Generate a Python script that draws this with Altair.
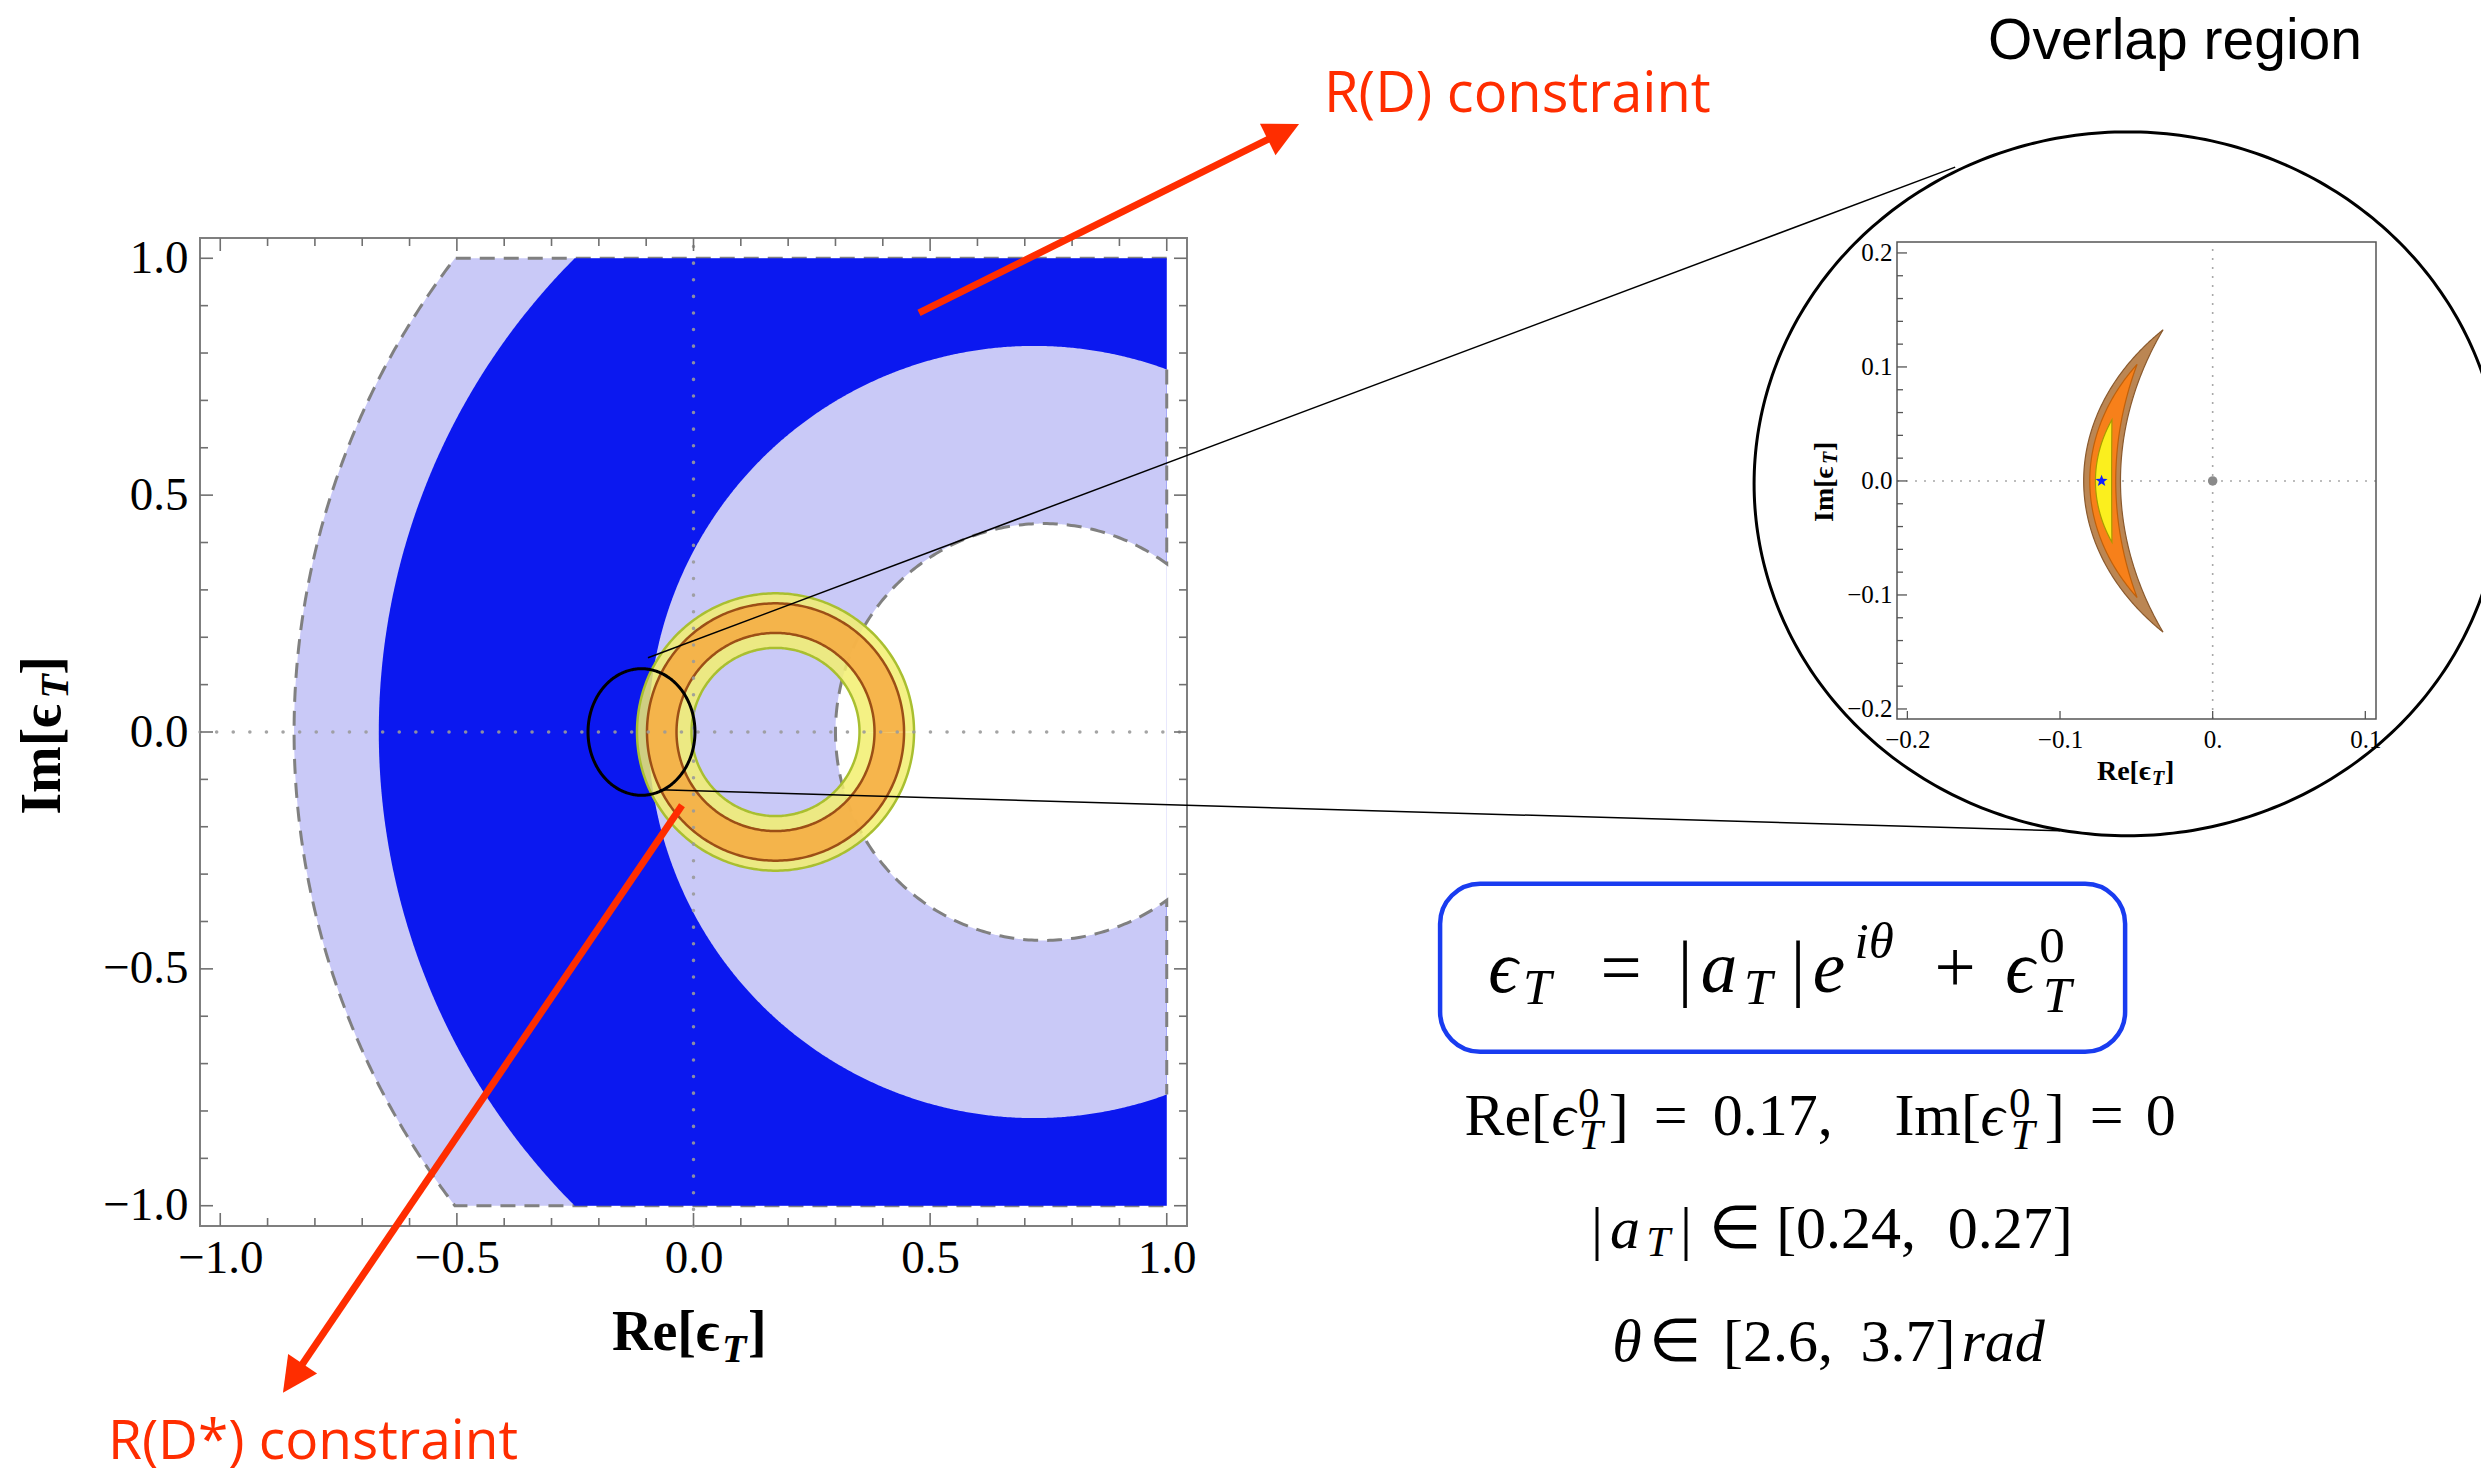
import math
import numpy as np
import pandas as pd
import altair as alt

# ===================== values =====================
# Main panel: each band edge is a circle centred on the real axis (centre, radius)
edge_names = ["R(D*) outer", "R(D*) inner", "R(D) outer", "R(D) inner"]
edge_centers = [0.797, 0.740, 0.750, 0.720]
edge_radii = [1.641, 0.440, 1.415, 0.815]
scan_box = [-1.0, 1.0]

# overlap rings  eps_T = |a_T| e^{i theta} + eps_T^0
ring_center = 0.1733
ring_names = ["2 sigma", "1 sigma"]
ring_inner = [0.1775, 0.2092]
ring_outer = [0.2927, 0.2716]

main_ticks = [-1.0, -0.9, -0.8, -0.7, -0.6, -0.5, -0.4, -0.3, -0.2, -0.1, 0.0,
              0.1, 0.2, 0.3, 0.4, 0.5, 0.6, 0.7, 0.8, 0.9, 1.0]
main_labels = [-1.0, -0.5, 0.0, 0.5, 1.0]

# Inset: zoom on the overlap region (three nested crescents)
crescent_names = ["outer", "middle", "inner"]
crescent_left = [-0.0845, -0.0805, -0.0768]
crescent_right = [-0.0604, -0.0635, -0.0662]
crescent_tip_x = [-0.0325, -0.0495, -0.0660]
crescent_tip_y = [0.1326, 0.1023, 0.0537]
best_fit_point = [-0.0728, 0.0]
sm_point = [0.0, 0.0]
inset_x_labels = [-0.2, -0.1, 0.0, 0.1]
inset_y_ticks = [-0.2, -0.18, -0.16, -0.14, -0.12, -0.1, -0.08, -0.06, -0.04, -0.02, 0.0,
                 0.02, 0.04, 0.06, 0.08, 0.1, 0.12, 0.14, 0.16, 0.18, 0.2]
inset_y_labels = [-0.2, -0.1, 0.0, 0.1, 0.2]

# annotation geometry, in main-panel data units
zoom_marker_center = [-0.1099, 0.0]
zoom_marker_radii = [0.113, 0.1336]
magnifier_center = [3.0304, 0.5239]
magnifier_radii = [0.7893, 0.7429]
zoom_line_start = [[-0.0962, 0.1566], [-0.0708, -0.1220]]
zoom_line_end = [[2.666, 1.1925], [2.8878, -0.2085]]
arrow_tail = [[0.4765, 0.8848], [-0.0243, -0.1545]]
arrow_tip = [[1.2796, 1.2837], [-0.8675, -1.3947]]

# ===================== styling / layout =====================
SERIF = "Liberation Serif"
SANS = "Liberation Sans"
HUMAN = "Open Sans"
RED = "#ff2d00"
LIGHT = "#c9c9f7"
DARK = "#0b18f0"
YELLOW, YELLOW_EDGE = "#f2ef6e", "#a9bf30"
ORANGE, ORANGE_EDGE = "#f6aa42", "#9c4f16"

W, H = 987, 988
PAD = {"left": 200, "top": 238, "right": 2481 - 200 - W, "bottom": 1476 - 238 - H}
XDOM = [-1.0428, 1.0428]
YDOM = [-1.0428, 1.0428]
PPU_X = W / (XDOM[1] - XDOM[0])
PPU_Y = H / (YDOM[1] - YDOM[0])

IX_DOM = [-0.2068, 0.107]
IY_DOM = [-0.2088, 0.2096]
IX_RANGE = [1697, 2176]
IY_RANGE = [481, 4]
IPPU_X = (IX_RANGE[1] - IX_RANGE[0]) / (IX_DOM[1] - IX_DOM[0])
IPPU_Y = (IY_RANGE[0] - IY_RANGE[1]) / (IY_DOM[1] - IY_DOM[0])

mx_scale = alt.Scale(domain=XDOM, nice=False, zero=False)
my_scale = alt.Scale(domain=YDOM, nice=False, zero=False)
mx_axis = alt.Axis(values=main_labels, format=".1f", labelFont=SERIF, labelFontSize=47,
                   labelColor="black", labelPadding=9, labelFlush=False, ticks=False,
                   domain=False, grid=False)
my_axis = alt.Axis(values=main_labels, format=".1f", labelFont=SERIF, labelFontSize=47,
                   labelColor="black", labelPadding=12, labelFlush=False, ticks=False,
                   domain=False, grid=False)

ix_scale = alt.Scale(domain=IX_DOM, range=IX_RANGE, nice=False, zero=False)
iy_scale = alt.Scale(domain=IY_DOM, range=IY_RANGE, nice=False, zero=False)
ix_axis = alt.Axis(orient="bottom", offset=IY_RANGE[0] - H, values=inset_x_labels,
                   labelExpr="datum.value == 0 ? '0.' : format(datum.value, '.1f')",
                   labelFont=SERIF, labelFontSize=25, labelColor="black", labelPadding=8,
                   labelFlush=False, ticks=False, domain=False, grid=False)
iy_axis = alt.Axis(orient="left", offset=-IX_RANGE[0], values=inset_y_labels, format=".1f",
                   labelFont=SERIF, labelFontSize=25, labelColor="black", labelPadding=5,
                   labelFlush=False, ticks=False, domain=False, grid=False)


def MX(f):
    return alt.X(f, type="quantitative", scale=mx_scale, axis=mx_axis, title=None)


def MY(f):
    return alt.Y(f, type="quantitative", scale=my_scale, axis=my_axis, title=None)


def IX(f):
    return alt.X(f, type="quantitative", scale=ix_scale, axis=ix_axis, title=None)


def IY(f):
    return alt.Y(f, type="quantitative", scale=iy_scale, axis=iy_axis, title=None)


# ===================== geometry tables =====================
def left_arc(c, r, y):
    return c - np.sqrt(np.maximum(r * r - y * y, 0.0))


def half_disk(c, r, n=721):
    t = np.linspace(-np.pi / 2, np.pi / 2, n)
    return r * np.sin(t), c - r * np.cos(t), c + r * np.cos(t)


lo, hi = scan_box
ys = np.linspace(lo, hi, 401)

light_df = pd.DataFrame({"y": ys, "x": left_arc(edge_centers[0], edge_radii[0], ys), "x2": hi})
dark_df = pd.DataFrame({"y": ys, "x": left_arc(edge_centers[2], edge_radii[2], ys), "x2": hi})
yy, l_, r_ = half_disk(edge_centers[3], edge_radii[3])
disk_df = pd.DataFrame({"y": yy, "x": l_, "x2": np.minimum(r_, hi)})
yy, l_, r_ = half_disk(edge_centers[1], edge_radii[1])
hole_df = pd.DataFrame({"y": yy, "x": l_, "x2": np.minimum(r_, hi)})

arc_y = np.linspace(hi, lo, 301)
ox = np.concatenate([[hi], left_arc(edge_centers[0], edge_radii[0], arc_y), [hi]])
oy = np.concatenate([[hi], arc_y, [lo]])
dash_outer_df = pd.DataFrame({"x": ox, "y": oy, "i": np.arange(len(ox))})

ch, rh = edge_centers[1], edge_radii[1]
y_h = math.sqrt(rh ** 2 - (hi - ch) ** 2)
y_i = math.sqrt(edge_radii[3] ** 2 - (hi - edge_centers[3]) ** 2)
th0 = math.atan2(y_h, hi - ch)
tt = np.linspace(th0, 2 * np.pi - th0, 301)
hx = np.concatenate([[hi], ch + rh * np.cos(tt), [hi]])
hy = np.concatenate([[y_i], rh * np.sin(tt), [-y_i]])
dash_inner_df = pd.DataFrame({"x": hx, "y": hy, "i": np.arange(len(hx))})

tc = np.linspace(0, 2 * np.pi, 361)


def ellipse_df(cx, cy, rx, ry, key="a"):
    return pd.DataFrame({"x": cx + rx * np.cos(tc), "y": cy + ry * np.sin(tc),
                         "i": np.arange(len(tc)), "k": key})


band_dfs = [ellipse_df(ring_center, 0.0, (a + b) / 2, (a + b) / 2)
            for a, b in zip(ring_inner, ring_outer)]
band_widths = [(b - a) * (PPU_X + PPU_Y) / 2 for a, b in zip(ring_inner, ring_outer)]
edge2_df = pd.concat([ellipse_df(ring_center, 0, ring_inner[0], ring_inner[0], "in"),
                      ellipse_df(ring_center, 0, ring_outer[0], ring_outer[0], "out")])
edge1_df = pd.concat([ellipse_df(ring_center, 0, ring_inner[1], ring_inner[1], "in"),
                      ellipse_df(ring_center, 0, ring_outer[1], ring_outer[1], "out")])

MAJ, MIN = 13, 8
rows = []
for t in main_ticks:
    L = MAJ if abs(round(t * 2) - t * 2) < 1e-9 else MIN
    lx, ly = L / PPU_X, L / PPU_Y
    rows.append((t, t, YDOM[0], YDOM[0] + ly))
    rows.append((t, t, YDOM[1], YDOM[1] - ly))
    rows.append((XDOM[0], XDOM[0] + lx, t, t))
    rows.append((XDOM[1], XDOM[1] - lx, t, t))
mticks_df = pd.DataFrame(rows, columns=["x", "x2", "y", "y2"])

axes_df = pd.DataFrame({"x": [0.0, XDOM[0]], "x2": [0.0, XDOM[1]],
                        "y": [YDOM[0], 0.0], "y2": [YDOM[1], 0.0]})

zoom_lines_df = pd.DataFrame({
    "x": [zoom_line_start[0][0], zoom_line_end[0][0], zoom_line_start[1][0], zoom_line_end[1][0]],
    "y": [zoom_line_start[0][1], zoom_line_end[0][1], zoom_line_start[1][1], zoom_line_end[1][1]],
    "i": [0, 1, 0, 1], "k": ["u", "u", "l", "l"]})

HEAD = 35.0
arr_rows, head_rows = [], []
for k, (a, b) in enumerate(zip(arrow_tail, arrow_tip)):
    dxp = (b[0] - a[0]) * PPU_X
    dyp = -(b[1] - a[1]) * PPU_Y
    n = math.hypot(dxp, dyp)
    ux, uy = dxp / n, dyp / n
    base = [b[0] - (HEAD - 6) * ux / PPU_X, b[1] + (HEAD - 6) * uy / PPU_Y]
    arr_rows += [(a[0], a[1], 0, k), (base[0], base[1], 1, k)]
    ang = math.degrees(math.atan2(ux, -uy)) % 360
    head_rows.append((b[0], b[1], ang))
arrow_df = pd.DataFrame(arr_rows, columns=["x", "y", "i", "k"])
head_df = pd.DataFrame(head_rows, columns=["x", "y", "a"])
ARROW_PATH = "M0,0L-1,2L1,2Z"


def crescent_edge(x0, xt, h, y):
    d = xt - x0
    if abs(d) < 1e-9:
        return np.full_like(y, x0)
    r = (d * d + h * h) / (2 * abs(d))
    return x0 + np.sign(d) * (r - np.sqrt(np.maximum(r * r - y * y, 0)))


cres_dfs = []
for xl, xr, xt, h in zip(crescent_left, crescent_right, crescent_tip_x, crescent_tip_y):
    yv = h * np.sin(np.linspace(-np.pi / 2, np.pi / 2, 241))
    cres_dfs.append(pd.DataFrame({"y": yv, "x": crescent_edge(xl, xt, h, yv),
                                  "x2": crescent_edge(xr, xt, h, yv)}))
cres_fill = ["#bb8653", "#f7801a", "#fbef1e"]
cres_edge = ["#8a5a2e", "#c0600a", "#a89a00"]

star_pts = []
for k in range(10):
    ang = -math.pi / 2 + k * math.pi / 5
    rad = 1.0 if k % 2 == 0 else 0.42
    star_pts.append(f"{rad * math.cos(ang):.3f},{rad * math.sin(ang):.3f}")
STAR_PATH = "M" + "L".join(star_pts) + "Z"

iticks = []
for t in inset_y_ticks:
    L = 10 if abs(round(t * 10) - t * 10) < 1e-9 else 6
    iticks.append((IX_DOM[0], IX_DOM[0] + L / IPPU_X, t, t))
for t in inset_x_labels:
    iticks.append((t, t, IY_DOM[0], IY_DOM[0] + 8 / IPPU_Y))
iticks_df = pd.DataFrame(iticks, columns=["x", "x2", "y", "y2"])
iaxes_df = pd.DataFrame({"x": [0.0, IX_DOM[0]], "x2": [0.0, IX_DOM[1]],
                         "y": [IY_DOM[0], 0.0], "y2": [IY_DOM[1], 0.0]})
iframe_df = pd.DataFrame({"x": [IX_DOM[0]], "x2": [IX_DOM[1]], "y": [IY_DOM[0]], "y2": [IY_DOM[1]]})


# ===================== text helper =====================
def text_layer(X, Y, txt, dx=0, dy=0, size=58, style="normal", weight="normal",
               font=SERIF, color="black", angle=None, inset=False, align="left"):
    ex, ey = (IX, IY) if inset else (MX, MY)
    props = dict(text=txt, dx=dx, dy=dy, fontSize=size, fontStyle=style,
                 fontWeight=weight, font=font, color=color, align=align,
                 baseline="alphabetic")
    if angle is not None:
        props["angle"] = angle
    return alt.Chart(pd.DataFrame({"x": [X], "y": [Y]})).mark_text(**props).encode(
        x=ex("x"), y=ey("y"))


# ===================== main panel layers =====================
main = []
main.append(alt.Chart(light_df).mark_area(orient="horizontal", color=LIGHT, opacity=1)
            .encode(y=MY("y"), x=MX("x"), x2=alt.X2("x2")))
main.append(alt.Chart(dash_outer_df).mark_line(color="#808080", strokeWidth=3, strokeDash=[15, 9])
            .encode(x=MX("x"), y=MY("y"), order="i:Q"))
main.append(alt.Chart(dark_df).mark_area(orient="horizontal", color=DARK, opacity=1)
            .encode(y=MY("y"), x=MX("x"), x2=alt.X2("x2")))
main.append(alt.Chart(disk_df).mark_area(orient="horizontal", color=LIGHT, opacity=1)
            .encode(y=MY("y"), x=MX("x"), x2=alt.X2("x2")))
main.append(alt.Chart(hole_df).mark_area(orient="horizontal", color="white", opacity=1)
            .encode(y=MY("y"), x=MX("x"), x2=alt.X2("x2")))
main.append(alt.Chart(dash_inner_df).mark_line(color="#808080", strokeWidth=3, strokeDash=[15, 9])
            .encode(x=MX("x"), y=MY("y"), order="i:Q"))
for df, wdt, col in zip(band_dfs, band_widths, [YELLOW, ORANGE]):
    main.append(alt.Chart(df).mark_line(color=col, strokeWidth=wdt, opacity=0.85,
                                        strokeJoin="round")
                .encode(x=MX("x"), y=MY("y"), order="i:Q"))
main.append(alt.Chart(edge2_df).mark_line(color=YELLOW_EDGE, strokeWidth=2.5)
            .encode(x=MX("x"), y=MY("y"), order="i:Q", detail="k:N"))
main.append(alt.Chart(edge1_df).mark_line(color=ORANGE_EDGE, strokeWidth=2.5)
            .encode(x=MX("x"), y=MY("y"), order="i:Q", detail="k:N"))
main.append(alt.Chart(axes_df).mark_rule(color="#9a9a9a", strokeWidth=3.5, strokeDash=[0.1, 16.5],
                                         strokeCap="round", opacity=0.9)
            .encode(x=MX("x"), x2=alt.X2("x2"), y=MY("y"), y2=alt.Y2("y2")))
main.append(alt.Chart(mticks_df).mark_rule(color="#707070", strokeWidth=1.6)
            .encode(x=MX("x"), x2=alt.X2("x2"), y=MY("y"), y2=alt.Y2("y2")))
main.append(alt.Chart(ellipse_df(zoom_marker_center[0], zoom_marker_center[1],
                                 zoom_marker_radii[0], zoom_marker_radii[1]))
            .mark_line(color="black", strokeWidth=3)
            .encode(x=MX("x"), y=MY("y"), order="i:Q"))
main.append(alt.Chart(ellipse_df(magnifier_center[0], magnifier_center[1],
                                 magnifier_radii[0], magnifier_radii[1]))
            .mark_line(color="black", strokeWidth=3)
            .encode(x=MX("x"), y=MY("y"), order="i:Q"))
main.append(alt.Chart(zoom_lines_df).mark_line(color="black", strokeWidth=1.5)
            .encode(x=MX("x"), y=MY("y"), order="i:Q", detail="k:N"))
main.append(alt.Chart(arrow_df).mark_line(color=RED, strokeWidth=7)
            .encode(x=MX("x"), y=MY("y"), order="i:Q", detail="k:N"))
main.append(alt.Chart(head_df).mark_point(shape=ARROW_PATH, filled=True, size=HEAD * HEAD,
                                          color=RED, opacity=1, strokeWidth=0)
            .encode(x=MX("x"), y=MY("y"), angle=alt.Angle("a:Q", scale=None)))

main.append(text_layer(1.3324, 1.3096, "R(D) constraint", size=56, font=HUMAN, color=RED))
main.append(text_layer(-1.2373, -1.5340, "R(D*) constraint", size=55, font=HUMAN, color=RED))
main.append(text_layer(2.7356, 1.4202, "Overlap region", size=57, font=SANS))

# main axis titles  Re[eps_T], Im[eps_T]
XT = (-0.1722, -1.3039)
main.append(text_layer(*XT, "Re[ϵ", size=56, weight="bold"))
main.append(text_layer(*XT, "T", dx=110, dy=12, size=40, weight="bold", style="italic"))
main.append(text_layer(*XT, "]", dx=136, size=56, weight="bold"))
YT = (-1.3388, -0.1748)
main.append(text_layer(*YT, "Im[ϵ", size=56, weight="bold", angle=270))
main.append(text_layer(*YT, "T", dx=116, dy=8, size=40, weight="bold", style="italic", angle=270))
main.append(text_layer(*YT, "]", dx=140, size=56, weight="bold", angle=270))

# formula box
box_df = pd.DataFrame({"x": [1.5776], "x2": [3.0251], "y": [-0.3204], "y2": [-0.6750]})
main.append(alt.Chart(box_df).mark_rect(filled=False, stroke="#193cf0", strokeWidth=4.5,
                                        cornerRadius=40)
            .encode(x=MX("x"), x2=alt.X2("x2"), y=MY("y"), y2=alt.Y2("y2")))

# formula pieces: (text, centre offset dx, dy, size, style) -- glyph centres
F1 = (1.6832, -0.5483)
formula_1 = [("ϵ", 13, 0, 73, "italic"), ("T", 47, 12, 51, "italic"), ("=", 131, 0, 73, "normal"),
             ("|", 195, 0, 73, "normal"), ("a", 229, 0, 73, "italic"), ("T", 268, 12, 51, "italic"),
             ("|", 308, 0, 73, "normal"), ("e", 339, 0, 73, "italic"), ("iθ", 384, -34, 51, "italic"),
             ("+", 465, 0, 73, "normal"), ("ϵ", 530, 0, 73, "italic"), ("0", 562, -30, 51, "normal"),
             ("T", 567, 20, 51, "italic")]
F2 = (1.6296, -0.8508)
formula_2 = [("Re[", 43, 0, 60, "normal"), ("ϵ", 99, 0, 60, "italic"), ("0", 124, -18, 43, "normal"),
             ("T", 126, 14, 43, "italic"), ("]", 154, 0, 60, "normal"), ("=", 206, 0, 60, "normal"),
             ("0.17,", 308, 0, 60, "normal"), ("Im[", 473, 0, 60, "normal"), ("ϵ", 528, 0, 60, "italic"),
             ("0", 555, -18, 43, "normal"), ("T", 558, 14, 43, "italic"), ("]", 590, 0, 60, "normal"),
             ("=", 642, 0, 60, "normal"), ("0", 696, 0, 60, "normal")]
F3 = (1.9094, -1.0886)
formula_3 = [("|", 0, 0, 60, "normal"), ("a", 28, 0, 60, "italic"), ("T", 61, 8, 43, "italic"),
             ("|", 89, 0, 60, "normal"), ("∈", 138, 0, 60, "normal"), ("[0.24,", 249, 0, 60, "normal"),
             ("0.27]", 413, 0, 60, "normal")]
F4 = (1.9453, -1.3272)
formula_4 = [("θ", 13, 0, 60, "italic"), ("∈", 61, 0, 60, "normal"), ("[2.6,", 164, 0, 60, "normal"),
             ("3.7]", 294, 0, 60, "normal"), ("rad", 389, 0, 60, "italic")]
for anchor, pieces in [(F1, formula_1), (F2, formula_2), (F3, formula_3), (F4, formula_4)]:
    for txt, dx, dy, sz, st in pieces:
        main.append(text_layer(*anchor, txt, dx=dx, dy=dy, size=sz, style=st, align="center"))

# ===================== inset layers =====================
inset = []
inset.append(alt.Chart(iaxes_df).mark_rule(color="#a8a8a8", strokeWidth=1.6, strokeDash=[2, 7])
             .encode(x=IX("x"), x2=alt.X2("x2"), y=IY("y"), y2=alt.Y2("y2")))
for df, fc, ec in zip(cres_dfs, cres_fill, cres_edge):
    inset.append(alt.Chart(df).mark_area(orient="horizontal", color=fc, opacity=1,
                                         stroke=ec, strokeWidth=1.2)
                 .encode(y=IY("y"), x=IX("x"), x2=alt.X2("x2")))
inset.append(alt.Chart(pd.DataFrame({"x": [sm_point[0]], "y": [sm_point[1]]}))
             .mark_point(shape="circle", filled=True, size=90, color="#8a8a8a", opacity=1)
             .encode(x=IX("x"), y=IY("y")))
inset.append(alt.Chart(pd.DataFrame({"x": [best_fit_point[0]], "y": [best_fit_point[1]]}))
             .mark_point(shape=STAR_PATH, filled=True, size=160, color="#1020ff", opacity=1)
             .encode(x=IX("x"), y=IY("y")))
inset.append(alt.Chart(iframe_df).mark_rect(filled=False, stroke="#555555", strokeWidth=1.5)
             .encode(x=IX("x"), x2=alt.X2("x2"), y=IY("y"), y2=alt.Y2("y2")))
inset.append(alt.Chart(iticks_df).mark_rule(color="#555555", strokeWidth=1.3)
             .encode(x=IX("x"), x2=alt.X2("x2"), y=IY("y"), y2=alt.Y2("y2")))
IXT = (-0.0758, -0.2623)
inset.append(text_layer(*IXT, "Re[ϵ", size=28, weight="bold", inset=True))
inset.append(text_layer(*IXT, "T", dx=55, dy=5, size=20, weight="bold", style="italic", inset=True))
inset.append(text_layer(*IXT, "]", dx=68, size=28, weight="bold", inset=True))
IYT = (-0.2488, -0.0360)
inset.append(text_layer(*IYT, "Im[ϵ", size=28, weight="bold", angle=270, inset=True))
inset.append(text_layer(*IYT, "T", dx=58, dy=4, size=20, weight="bold", style="italic",
                        angle=270, inset=True))
inset.append(text_layer(*IYT, "]", dx=71, size=28, weight="bold", angle=270, inset=True))

chart = (
    alt.layer(alt.layer(*main), alt.layer(*inset))
    .resolve_scale(x="independent", y="independent")
    .properties(width=W, height=H, autosize=alt.AutoSizeParams(type="none"),
                padding=PAD, background="white")
    .configure_view(stroke="#7f7f7f", strokeWidth=2)
)

chart.save("out.html", embed_options={"renderer": "svg", "actions": False})
